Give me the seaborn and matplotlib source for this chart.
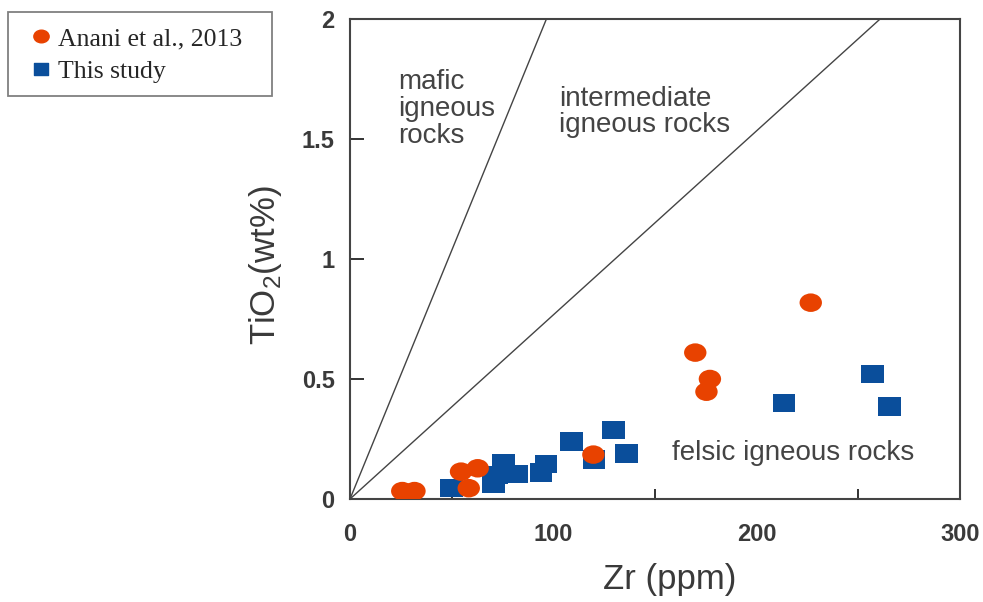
import numpy as np
import pandas as pd
import seaborn as sns
import matplotlib
matplotlib.use("Agg")
import matplotlib.pyplot as plt
from matplotlib.path import Path
from matplotlib.transforms import Affine2D
from matplotlib.lines import Line2D
from matplotlib.patches import Rectangle

# ---------------- data ----------------
anani_zr = [25.7, 31.7, 54.6, 62.8, 58.4, 119.7, 169.8, 177.0, 175.3, 226.6]
anani_ti = [0.033, 0.033, 0.114, 0.128, 0.045, 0.185, 0.61, 0.50, 0.447, 0.818]

study_zr = [50.0, 70.5, 72.0, 75.5, 82.0, 94.0, 96.4, 109.0, 120.0, 129.5, 136.0, 213.5, 257.0, 265.4]
study_ti = [0.045, 0.065, 0.10, 0.15, 0.104, 0.11, 0.146, 0.239, 0.165, 0.2875, 0.19, 0.40, 0.52, 0.385]

# field boundary lines (Zr, TiO2 end points)
mafic_zr = [0, 96.6]
mafic_ti = [0, 2.0]
inter_zr = [0, 260.7]
inter_ti = [0, 2.0]

series_names = ["Anani et al., 2013", "This study"]
x_ticks = [0, 100, 200, 300]
x_minor = [50, 150, 250]
y_ticks = [0, 0.5, 1, 1.5, 2]
y_ticklabels = ["0", "0.5", "1", "1.5", "2"]

# ---------------- styling ----------------
sns.set_theme(style="white")
plt.rcParams["font.family"] = ["Liberation Sans", "DejaVu Sans"]
plt.rcParams["mathtext.fontset"] = "custom"
plt.rcParams["mathtext.rm"] = "Liberation Sans"

ORANGE = "#E84200"
BLUE = "#0A4E9B"
DARK = "#3a3a3a"

ellipse = Path.unit_circle().transformed(Affine2D().scale(1.21, 1.0))
rect = Path([(-1.22, -1), (1.22, -1), (1.22, 1), (-1.22, 1), (-1.22, -1)],
            [Path.MOVETO, Path.LINETO, Path.LINETO, Path.LINETO, Path.CLOSEPOLY])

df = pd.concat([
    pd.DataFrame({"Zr": study_zr, "TiO2": study_ti, "source": series_names[1]}),
    pd.DataFrame({"Zr": anani_zr, "TiO2": anani_ti, "source": series_names[0]}),
], ignore_index=True)

W, H = 983, 602
fig = plt.figure(figsize=(W / 100, H / 100), dpi=100)
ax = fig.add_axes([350 / W, 1 - 499 / H, 610 / W, 480 / H])

ax.plot(mafic_zr, mafic_ti, color="#444444", lw=1.0, zorder=1)
ax.plot(inter_zr, inter_ti, color="#444444", lw=1.0, zorder=1)

sns.scatterplot(data=df, x="Zr", y="TiO2", hue="source", style="source",
                palette={series_names[0]: ORANGE, series_names[1]: BLUE},
                markers={series_names[0]: ellipse, series_names[1]: rect},
                s=260, linewidth=0, edgecolor="none", legend=False, ax=ax, zorder=3)

ax.set_xlim(0, 300)
ax.set_ylim(0, 2)
ax.set_xticks(x_ticks)
ax.set_xticks(x_minor, minor=True)
ax.set_xticklabels([str(v) for v in x_ticks])
ax.set_yticks(y_ticks)
ax.set_yticklabels(y_ticklabels)

ax.tick_params(axis="x", which="major", direction="in", length=12, width=1.4,
               color="#333333", pad=17, labelsize=17, labelcolor=DARK)
ax.tick_params(axis="x", which="minor", direction="in", length=7, width=1.4,
               color="#333333", bottom=True)
ax.tick_params(axis="y", which="major", direction="in", length=10, width=1.4,
               color="#333333", pad=11, labelsize=17, labelcolor=DARK, left=True)
for lab in ax.get_xticklabels() + ax.get_yticklabels():
    lab.set_fontweight("bold")

for sp in ax.spines.values():
    sp.set_visible(True)
    sp.set_color("#444444")
    sp.set_linewidth(1.5)

ax.set_xlabel("Zr (ppm)", fontsize=25, color=DARK)
ax.xaxis.label.set_va("center")
ax.xaxis.set_label_coords((670 - 350) / 610, -(580 - 499) / 480)
ax.set_ylabel(r"TiO$_{\mathregular{2}}$(wt%)", fontsize=25, color=DARK)
ax.yaxis.label.set_va("center")
ax.yaxis.set_label_coords(-(350 - 265) / 610, (499 - 265) / 480)

# field labels
ax.text(23.8, 1.627, "mafic\nigneous\nrocks", fontsize=20, color="#444444",
        ha="left", va="center", linespacing=1.05)
ax.text(103.0, 1.6125, "intermediate\nigneous rocks", fontsize=20, color="#444444",
        ha="left", va="center", linespacing=1.05)
ax.text(158.5, 0.19, "felsic igneous rocks", fontsize=20, color="#444444",
        ha="left", va="center")

# legend
handles = [
    Line2D([], [], linestyle="none", marker=ellipse, color=ORANGE, markersize=11),
    Line2D([], [], linestyle="none", marker=rect, color=BLUE, markersize=10),
]
fig.legend(handles, series_names, loc="upper left",
           bbox_to_anchor=(28 / W, 1 - 27 / H), frameon=False,
           prop={"family": "Liberation Serif", "size": 18.5},
           handlelength=1.0, handletextpad=0.15, borderpad=0, borderaxespad=0,
           labelspacing=0.4)
fig.patches.append(Rectangle((8 / W, 1 - 96 / H), 264 / W, 84 / H,
                             transform=fig.transFigure, fill=False,
                             edgecolor="#808080", lw=1.3))

fig.savefig("out.png", dpi=100)
